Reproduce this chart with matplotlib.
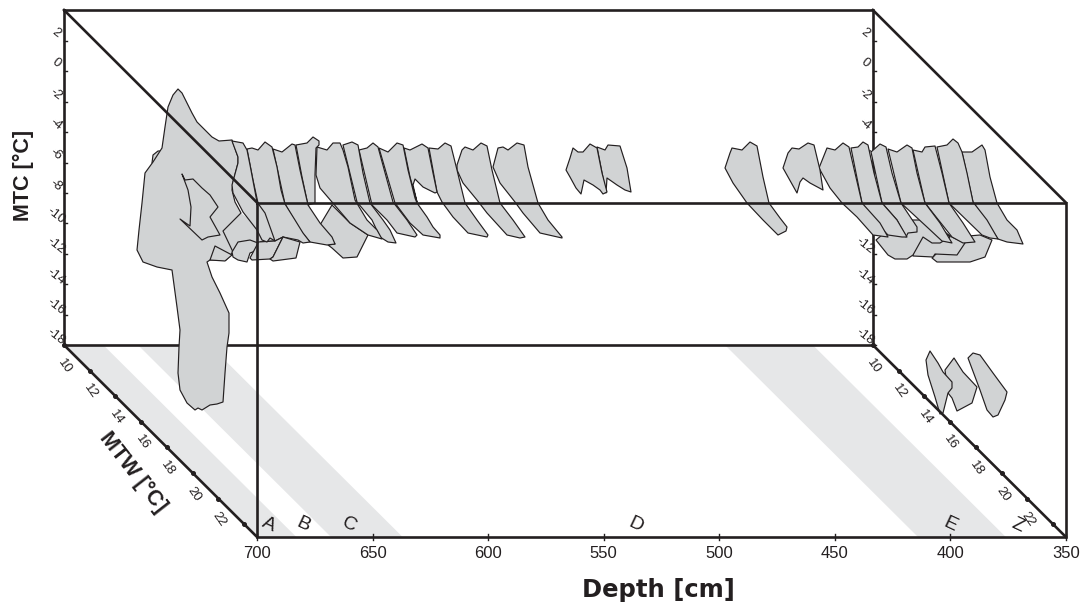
# -*- coding: utf-8 -*-
import matplotlib
matplotlib.use("Agg")
import matplotlib.pyplot as plt

plt.rcParams['font.family'] = ['Liberation Sans', 'DejaVu Sans']

# axis values
depth_ticks = [700, 650, 600, 550, 500, 450, 400, 350]
mtc_ticks = [2, 0, -2, -4, -6, -8, -10, -12, -14, -16, -18]
mtw_ticks = [10, 12, 14, 16, 18, 20, 22, 24]
mtw_labels = [10, 12, 14, 16, 18, 20, 22]

# zones on the floor, depth from / to
band_a = (700, 683)
band_c = (668, 637)
band_e = (414, 376)
zone_names = ["A", "B", "C", "D", "E", "Z"]
zone_depth = [695, 680, 660, 536, 400, 371]

# traced climate outlines, in picture units
main_shape = [(178, 89), (182, 93), (187, 103), (192, 113), (197, 122), (205, 130), (212, 137), (219, 141),
              (232, 140), (238, 157), (238, 163), (233, 182), (232, 190), (235, 202), (241, 213), (223, 231),
              (233, 252), (226, 260), (210, 260), (207, 262), (212, 277), (220, 293), (229, 313), (229, 333),
              (227, 347), (225, 373), (223, 402), (217, 404), (210, 405), (202, 410), (198, 408), (195, 410),
              (187, 403), (180, 390), (178, 373), (179, 347), (180, 330), (177, 307), (172, 270), (157, 267),
              (143, 262), (137, 250), (139, 230), (142, 203), (145, 173), (153, 162), (162, 148), (165, 127),
              (168, 107), (173, 95)]
main_bump = [(152, 163), (153, 155), (158, 151), (165, 151), (163, 165)]
main_inner = [(182, 174), (185, 180), (193, 179), (202, 188), (210, 195), (218, 207), (210, 217), (220, 235),
              (208, 237), (202, 240), (180, 219), (190, 226), (191, 207), (188, 190)]
main_tri = [(215, 246), (232, 255), (225, 261), (210, 260)]
back_fill = [(241, 213), (223, 231), (233, 252), (258, 252), (262, 230)]
m2 = [(232, 141), (243, 143), (247, 150), (250, 165), (257, 202), (265, 213), (270, 227), (275, 241), (270, 238),
      (267, 242), (262, 240), (257, 230), (243, 212), (233, 193), (232, 185), (238, 163), (238, 157)]
low1 = [(232, 252), (238, 242), (250, 240), (258, 243), (258, 250), (250, 253), (247, 262), (238, 260), (233, 257)]
low2 = [(258, 243), (250, 258), (252, 260), (270, 259), (273, 257), (283, 237), (275, 241), (258, 242)]
low3 = [(283, 237), (300, 242), (296, 258), (273, 261), (270, 259), (273, 257)]

p1 = [(247, 149), (252, 148), (258, 150), (265, 142), (272, 147), (277, 167), (281, 190), (285, 204), (295, 220),
      (303, 233), (310, 242), (303, 243), (298, 240), (283, 237), (275, 241), (258, 242), (258, 203), (253, 180)]
p2 = [(273, 149), (282, 152), (292, 144), (295, 145), (300, 170), (305, 192), (308, 205), (320, 223), (332, 237),
      (335, 244), (327, 245), (310, 242), (300, 230), (285, 204)]
p3 = [(296, 145), (307, 143), (313, 137), (319, 141), (319, 145), (316, 148), (315, 175), (315, 203), (308, 205),
      (302, 177)]
p4 = [(317, 147), (327, 150), (333, 143), (340, 143), (343, 150), (348, 167), (355, 200), (367, 220), (377, 230),
      (382, 239), (368, 235), (350, 223), (332, 202), (320, 188), (316, 175)]
p4_low = [(320, 225), (335, 244), (328, 245), (332, 248), (343, 258), (357, 257), (368, 235), (350, 223), (332, 205)]
p5 = [(343, 145), (352, 142), (358, 145), (363, 173), (370, 203), (383, 220), (390, 230), (396, 243), (388, 242),
      (380, 237), (372, 220), (357, 202)]
p6 = [(359, 150), (367, 148), (373, 143), (378, 147), (387, 180), (393, 202), (407, 220), (417, 235), (415, 237),
      (397, 233), (387, 220), (372, 205)]
p7 = [(379, 148), (388, 152), (397, 143), (403, 145), (408, 170), (415, 198), (417, 203), (427, 217), (433, 227),
      (440, 235), (440, 238), (423, 235), (410, 223), (395, 203)]
p8 = [(404, 148), (410, 150), (422, 144), (428, 148), (433, 173), (437, 192), (435, 193), (423, 187), (415, 179),
      (413, 185), (417, 202), (410, 177)]
p9 = [(429, 148), (438, 149), (445, 143), (451, 146), (457, 170), (465, 203), (477, 220), (488, 235), (487, 237),
      (468, 233), (453, 217), (442, 202), (437, 192)]
p10 = [(457, 165), (462, 150), (465, 147), (473, 150), (481, 143), (487, 146), (492, 170), (500, 203), (513, 220),
       (525, 237), (520, 238), (507, 235), (487, 213), (477, 200), (463, 183), (457, 170)]
p11 = [(493, 167), (498, 148), (503, 147), (508, 150), (517, 143), (524, 145), (528, 167), (538, 203), (548, 220),
       (562, 237), (562, 238), (540, 233), (523, 213), (515, 202), (500, 183)]

q1 = [(566, 170), (570, 158), (573, 148), (578, 152), (583, 152), (590, 144), (597, 148), (602, 173), (607, 192),
      (603, 194), (600, 190), (593, 185), (584, 180), (581, 194), (576, 188), (570, 177)]
q2 = [(597, 147), (605, 150), (608, 145), (620, 146), (627, 168), (631, 192), (625, 190), (617, 185), (607, 178),
      (606, 193)]
q3 = [(725, 168), (730, 153), (732, 148), (742, 150), (750, 142), (757, 146), (763, 177), (769, 203), (780, 218),
      (787, 227), (786, 231), (778, 235), (763, 220), (747, 203), (733, 183)]
q4 = [(783, 168), (788, 153), (792, 148), (799, 149), (808, 143), (814, 145), (820, 170), (823, 190), (810, 183),
      (803, 178), (800, 182), (797, 193)]

r1 = [(819, 168), (827, 148), (835, 150), (843, 143), (849, 147), (855, 173), (862, 203), (880, 223), (888, 237),
      (873, 235), (857, 217), (842, 203), (830, 188)]
r2 = [(851, 148), (858, 147), (863, 142), (868, 145), (874, 173), (882, 203), (897, 220), (907, 237), (902, 237),
      (888, 235), (873, 220), (862, 203)]
r3 = [(871, 152), (880, 144), (886, 147), (892, 173), (901, 203), (917, 227), (917, 232), (908, 233), (906, 237),
      (897, 220), (882, 203)]
r4 = [(888, 149), (897, 152), (907, 145), (912, 148), (917, 173), (925, 203), (940, 223), (952, 243), (942, 241),
      (927, 227), (901, 203)]
r5 = [(913, 150), (922, 152), (925, 147), (935, 146), (942, 173), (949, 203), (963, 223), (975, 242), (963, 243),
      (952, 237), (925, 203)]
r6 = [(937, 147), (947, 145), (953, 139), (958, 143), (962, 152), (967, 173), (973, 202), (987, 220), (998, 239),
      (990, 238), (982, 235), (949, 203)]
r7 = [(962, 152), (972, 152), (982, 145), (985, 150), (990, 177), (997, 203), (1007, 220), (1017, 230), (1023, 244),
      (1007, 242), (998, 239), (973, 202)]
blob1 = [(876, 240), (888, 255), (895, 259), (907, 259), (913, 255), (923, 237), (932, 243), (940, 243), (950, 237),
         (933, 220), (900, 220)]
blob2 = [(913, 256), (933, 257), (935, 254), (957, 255), (965, 243), (952, 237), (933, 225), (913, 240)]
blob3 = [(932, 258), (937, 262), (970, 262), (985, 257), (992, 240), (980, 235), (957, 237), (945, 245)]

s1 = [(930, 351), (938, 363), (943, 372), (952, 382), (952, 388), (948, 393), (943, 413), (940, 414), (935, 397),
      (928, 375), (926, 360)]
s2 = [(945, 370), (954, 358), (963, 372), (977, 387), (972, 403), (957, 411), (952, 398), (948, 393)]
s3 = [(968, 358), (973, 353), (980, 355), (993, 373), (1007, 392), (1005, 400), (998, 415), (993, 417), (987, 410),
      (980, 390)]

# right ones are behind the left ones
draw_order = [s3, s2, s1, blob3, blob2, blob1, r7, r6, r5, r4, r3, r2, r1, q4, q3, q2, q1,
              p11, p10, p9, p8, p7, p6, p5, p4_low, p4, p3, p2, p1, back_fill, main_bump, main_shape,
              main_inner, main_tri, low1, low2, low3, m2]

#colours
dark = "#231f20"
fill = "#d1d3d4"
band = "#e6e7e8"

# box geometry
left_x = 64
top_y = 10
bottom_y = 345
px_per_cm = 2.311
px_per_mtc = 15.2
mtw_dx = 12.87
mtw_dy = 12.8


def depth_x(depth, mtw=25):
    return left_x + (mtw - 10) * mtw_dx + (700 - depth) * px_per_cm


def mtc_y(mtc):
    return bottom_y - (mtc + 18) * px_per_mtc


def mtw_y(mtw):
    return bottom_y + (mtw - 10) * mtw_dy


fig = plt.figure(figsize=(10.9, 6.06), dpi=100)
ax = fig.add_axes([0, 0, 1, 1])
ax.set_xlim(0, 1090)
ax.set_ylim(606, 0)
ax.axis("off")

# floor bands
for a, b in [band_a, band_c, band_e]:
    ax.fill([depth_x(a, 10), depth_x(b, 10), depth_x(b, 25), depth_x(a, 25)],
            [mtw_y(10), mtw_y(10), mtw_y(25), mtw_y(25)], color=band, lw=0, zorder=1)

# back box
back_l = depth_x(700, 10)
back_r = depth_x(350, 10)
front_r = depth_x(350, 25)
front_y_top = mtw_y(25) - 22 * px_per_mtc
front_y_bot = mtw_y(25)
ax.plot([back_l, back_r, back_r, back_l, back_l], [top_y, top_y, bottom_y, bottom_y, top_y],
        color=dark, lw=1.9, zorder=2, solid_joinstyle="miter")

for mtc in mtc_ticks:
    for x0 in (back_l, back_r):
        ax.plot([x0, x0 + 3], [mtc_y(mtc), mtc_y(mtc)], color=dark, lw=1.0, zorder=2)
        ax.text(x0 - 8, mtc_y(mtc) - 8, str(mtc), fontsize=9.5, rotation=-38, color=dark,
                ha="center", va="center", rotation_mode="anchor", zorder=2)

# outlines
for shape in draw_order:
    xs = [pt[0] for pt in shape]
    ys = [pt[1] for pt in shape]
    edge = "none" if shape is back_fill else dark
    ax.fill(xs, ys, facecolor=fill, edgecolor=edge, lw=0.85, zorder=3, joinstyle="round")

# front box and diagonals
ax.plot([depth_x(700), front_r, front_r, depth_x(700), depth_x(700)],
        [front_y_top, front_y_top, front_y_bot, front_y_bot, front_y_top],
        color=dark, lw=1.9, zorder=4, solid_joinstyle="miter")
for x0, y0, x1, y1 in [(back_l, top_y, depth_x(700), front_y_top), (back_r, top_y, front_r, front_y_top),
                       (back_l, bottom_y, depth_x(700), front_y_bot), (back_r, bottom_y, front_r, front_y_bot)]:
    ax.plot([x0, x1], [y0, y1], color=dark, lw=1.9, zorder=4)

# depth axis
for d in depth_ticks:
    ax.plot([depth_x(d), depth_x(d)], [front_y_bot - 3, front_y_bot + 3], color=dark, lw=1.0, zorder=4)
    ax.text(depth_x(d), 554, str(d), fontsize=12, color=dark, ha="center", va="center", zorder=5)

# mtw axes
for v in mtw_ticks:
    for d in (700, 350):
        ax.plot(depth_x(d, v), mtw_y(v), marker="o", ms=2.6, color=dark, zorder=4)
for v in mtw_labels:
    for d in (700, 350):
        ax.text(depth_x(d, v) + 1, mtw_y(v) + 21, str(v), fontsize=9.5, rotation=-55, color=dark,
                ha="center", va="center", rotation_mode="anchor", zorder=5)

# zone letters
for name, d in zip(zone_names, zone_depth):
    ax.text(depth_x(d), 525, name, fontsize=14, rotation=-25, color=dark, ha="center", va="center",
            rotation_mode="anchor", zorder=5)

ax.text(23, 175, "MTC [°C]", fontsize=15.5, fontweight="bold", rotation=90, color=dark, ha="center", va="center")
ax.text(133, 472, "MTW [°C]", fontsize=15.5, fontweight="bold", rotation=-52, color=dark, ha="center", va="center",
        rotation_mode="anchor")
ax.text(658, 590, "Depth [cm]", fontsize=17.5, fontweight="bold", color=dark, ha="center", va="center",
        family="DejaVu Sans")

plt.savefig("out.png", dpi=100)
